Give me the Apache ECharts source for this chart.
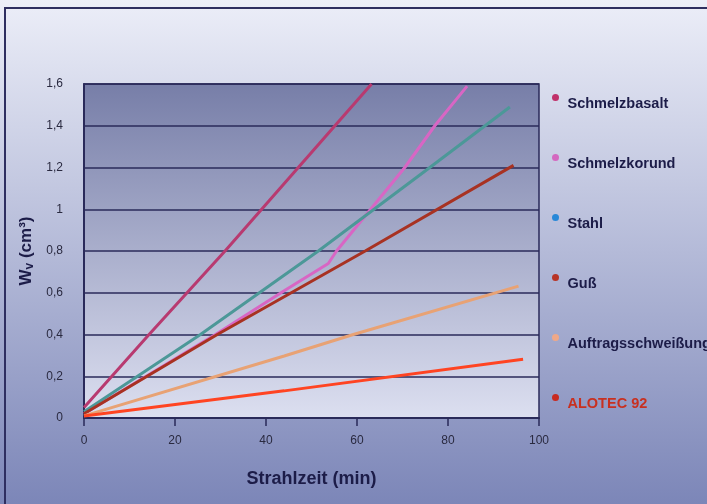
<!DOCTYPE html>
<html><head><meta charset="utf-8">
<script src="https://cdn.jsdelivr.net/npm/echarts@6/dist/echarts.min.js"></script>
<style>html,body{margin:0;padding:0;}#c{width:707px;height:504px;}</style>
</head><body><div id="c"></div>
<script>
const seriesNames = ['Schmelzbasalt','Schmelzkorund','Stahl','Guß','Auftragsschweißung','ALOTEC 92'];
const schmelzbasalt = [[0,0.05],[14.3,0.4],[31,0.8],[47.1,1.2],[63.2,1.6]];
const schmelzkorund = [[0,0.02],[28.9,0.4],[44,0.61],[53.7,0.74],[55.5,0.8],[70.5,1.2],[77.1,1.4],[84.2,1.59]];
const stahl = [[0,0.03],[25.6,0.4],[51.5,0.8],[76,1.2],[93.6,1.49]];
const guss = [[0,0.02],[29.3,0.4],[61.8,0.8],[94.4,1.21]];
const auftrag = [[0,0.01],[44,0.297],[59.2,0.4],[95.5,0.632]];
const alotec = [[0,0.01],[44,0.13],[96.5,0.281]];
const xTicks = [0,20,40,60,80,100];
const yTicks = [0,0.2,0.4,0.6,0.8,1,1.2,1.4,1.6];

const lineColors = ['#b83a70','#d866c4','#4c9898','#a83222','#e8a274','#ff4422'];
const dotColors = ['#c0306a','#d468c0','#2888d8','#b83426','#f0a888','#c82a20'];
const textColors = ['#1c1c48','#1c1c48','#1c1c48','#1c1c48','#1c1c48','#c83020'];
const allData = [schmelzbasalt, schmelzkorund, stahl, guss, auftrag, alotec];

const chart = echarts.init(document.getElementById('c'));
chart.setOption({
  animation: false,
  backgroundColor: {type:'linear',x:0,y:0,x2:0,y2:1,colorStops:[{offset:0,color:'#eceef8'},{offset:1,color:'#7c86b8'}]},
  textStyle: {fontFamily: 'Liberation Sans'},
  graphic: [{type:'rect', shape:{x:5,y:8,width:760,height:560}, style:{fill:'none',stroke:'#2e2e60',lineWidth:2}, silent:true}],
  grid: {left:84, right:168, top:84, bottom:86, show:true, borderColor:'#2a2a5a', borderWidth:1.5,
    backgroundColor:{type:'linear',x:0,y:0,x2:0,y2:1,colorStops:[{offset:0,color:'#777ea8'},{offset:1,color:'#dcdff0'}]}},
  legend: {
    orient:'vertical', left:547, top:79, itemGap:33, itemWidth:14, itemHeight:7, icon:'circle',
    formatter: n => '\n' + n,
    textStyle:{fontSize:14.5, fontWeight:'bold', color:'#1c1c48', lineHeight:12, fontFamily:'Liberation Sans'},
    data: seriesNames.map((n,i)=>({name:n, itemStyle:{color:dotColors[i]}, textStyle:{color:textColors[i]}}))
  },
  xAxis: {
    type:'value', min:0, max:100, interval:20,
    name:'Strahlzeit (min)', nameLocation:'middle', nameGap:52,
    nameTextStyle:{fontSize:18, fontWeight:'bold', color:'#1c1c48'},
    axisLine:{lineStyle:{color:'#2a2a5a', width:2}},
    axisTick:{show:true, length:8, lineStyle:{color:'#2a2a5a', width:1.5}},
    axisLabel:{fontSize:12, color:'#2a2a40', margin:17},
    splitLine:{show:false}
  },
  yAxis: {
    type:'value', min:0, max:1.6, interval:0.2,
    name:'{w|W}{v|v}{w| (cm³)}', nameLocation:'middle', nameGap:46,
    nameTextStyle:{fontSize:17, fontWeight:'bold', color:'#1c1c48',
      rich:{w:{fontSize:17,fontWeight:'bold',color:'#1c1c48'}, v:{fontSize:12,fontWeight:'bold',color:'#1c1c48',verticalAlign:'bottom',padding:[7,0,0,0]}}},
    axisLine:{show:true, lineStyle:{color:'#2a2a5a', width:2}},
    axisTick:{show:false},
    axisLabel:{fontSize:12, color:'#2a2a40', margin:21, formatter:v=>String(+v.toFixed(1)).replace('.',',')},
    splitLine:{show:true, lineStyle:{color:'#2a2a5a', width:1.5}}
  },
  series: seriesNames.map((n,i)=>({
    name:n, type:'line', data:allData[i], showSymbol:false, symbol:'circle', clip:true,
    itemStyle:{color:dotColors[i]},
    lineStyle:{color:lineColors[i], width:3}
  }))
});
</script></body></html>
